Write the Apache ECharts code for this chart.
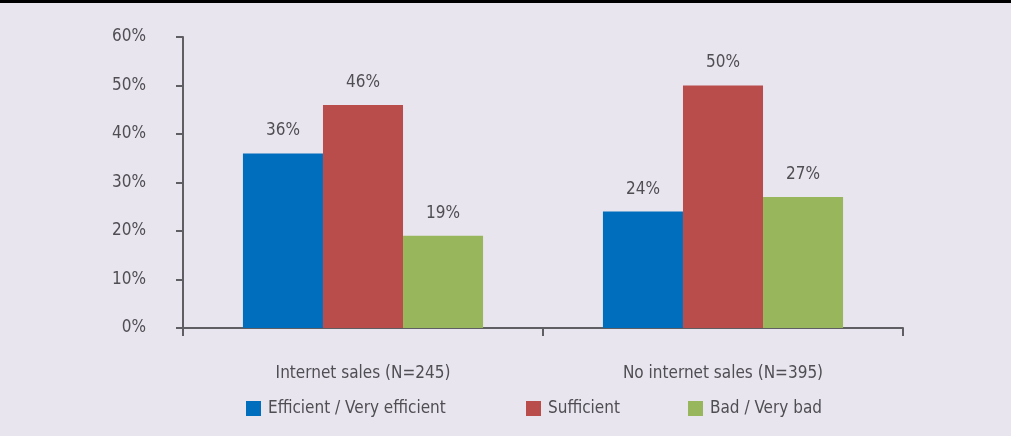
<!DOCTYPE html>
<html><head><meta charset="utf-8">
<script src="https://cdn.jsdelivr.net/npm/echarts@6/dist/echarts.min.js"></script>
<style>html,body{margin:0;padding:0;background:#E9E5EF;}#c{width:1011px;height:436px;}#bar{position:absolute;left:0;top:0;width:1011px;height:3px;background:#000;}</style>
</head><body><div id="c"></div><div id="bar"></div>
<script>
const categories = ["Internet sales (N=245)", "No internet sales (N=395)"];
const seriesNames = ["Efficient / Very efficient", "Sufficient", "Bad / Very bad"];
const efficient = [36, 24];
const sufficient = [46, 50];
const bad = [19, 27];
const yTicks = [0, 10, 20, 30, 40, 50, 60];
const colors = ["#006EBC", "#B84D4B", "#98B65B"];
const FONT = "'Liberation Sans Narrow', 'DejaVu Sans Condensed', sans-serif";
const txt = "#4f4e53";
const chart = echarts.init(document.getElementById('c'));
const mk = (name, data, i) => ({
  name, type: 'bar', data, barGap: '0%', barCategoryGap: '33.3%',
  itemStyle: { color: colors[i] },
  label: { show: true, position: 'top', distance: 14, formatter: '{c}%', color: txt, fontFamily: FONT, fontSize: 17 }
});
const legendLefts = [241, 521, 683];
chart.setOption({
  backgroundColor: '#E9E5EF',
  animation: false,
  grid: { left: 183, right: 108, top: 37, bottom: 108 },
  legend: seriesNames.map((n, i) => ({
    data: [n], left: legendLefts[i], top: 395, itemWidth: 15, itemHeight: 15, itemGap: 0,
    icon: 'rect', textStyle: { color: txt, fontFamily: FONT, fontSize: 17, padding: [0, 0, 0, 2] }
  })),
  xAxis: {
    type: 'category', data: categories,
    axisLine: { lineStyle: { color: '#5f5e63', width: 2 } },
    axisTick: { show: true, length: 8, lineStyle: { color: '#5f5e63', width: 2 } },
    axisLabel: { margin: 37, color: txt, fontFamily: FONT, fontSize: 17 }
  },
  yAxis: {
    type: 'value', min: yTicks[0], max: yTicks[yTicks.length - 1], interval: 10,
    axisLine: { show: true, lineStyle: { color: '#5f5e63', width: 2 } },
    axisTick: { show: true, length: 7, lineStyle: { color: '#5f5e63', width: 2 } },
    splitLine: { show: false },
    axisLabel: { margin: 37, formatter: '{value}%', color: txt, fontFamily: FONT, fontSize: 17 }
  },
  series: [mk(seriesNames[0], efficient, 0), mk(seriesNames[1], sufficient, 1), mk(seriesNames[2], bad, 2)]
});
</script></body></html>
